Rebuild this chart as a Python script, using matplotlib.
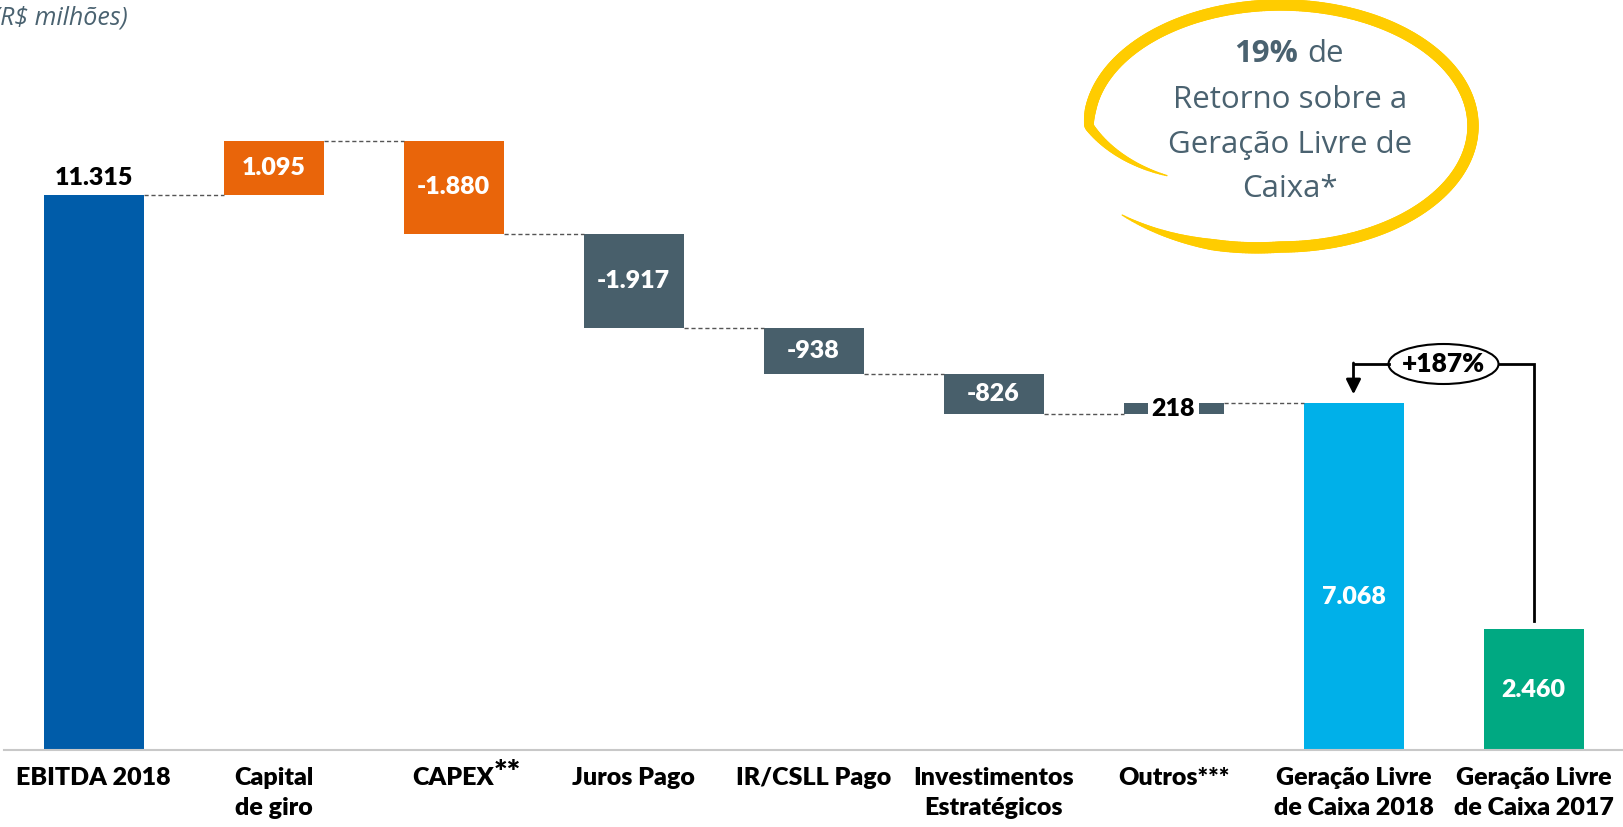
import matplotlib
matplotlib.use('Agg')
import matplotlib.pyplot as plt
import numpy as np
from matplotlib.patches import Ellipse
from matplotlib.collections import LineCollection

plt.rcParams['font.family'] = ['Lato', 'DejaVu Sans']

# data (R$ milhoes)
categories = ['EBITDA 2018', 'Capital\nde giro', 'CAPEX', 'Juros Pago', 'IR/CSLL Pago',
              'Investimentos\nEstratégicos', 'Outros***', 'Geração Livre\nde Caixa 2018',
              'Geração Livre\nde Caixa 2017']
ebitda = 11315
deltas = [1095, -1880, -1917, -938, -826, 218]
glc_2018 = 7068
glc_2017 = 2460
growth_label = '+187%'
balloon_pct = '19%'

c_ebitda = '#005CA9'
c_orange = '#E9650A'
c_slate = '#485F6B'
c_light = '#00B0E9'
c_green = '#00A982'
delta_colors = [c_orange, c_orange, c_slate, c_slate, c_slate, c_slate]

def fmt(v):
    return f'{v:,}'.replace(',', '.')

W, H = 1623, 827
fig = plt.figure(figsize=(W / 100, H / 100), dpi=100)
px = 0.04905  # pixels per unit
ax = fig.add_axes([3.5 / W, 77 / H, 1620 / W, 750 / H])
ax.set_xlim(-0.5, 8.5)
ax.set_ylim(0, 750 / px)

bw = 100 / 180
fs = 18
fw = 'heavy'

# EBITDA
ax.bar(0, ebitda, bw, color=c_ebitda)
ax.annotate(fmt(ebitda), (0, ebitda), xytext=(0, 6), textcoords='offset pixels',
            ha='center', va='bottom', fontsize=fs, fontweight=fw, color='black')

# deltas
level = ebitda
for i, d in enumerate(deltas):
    x = i + 1
    new = level + d
    lo, hi = min(level, new), max(level, new)
    ax.bar(x, hi - lo, bw, bottom=lo, color=delta_colors[i])
    ax.plot([x - 1 + bw / 2, x - bw / 2], [level, level], color='#555555', lw=1,
            ls=(0, (3, 2)))
    if abs(d) < 500:
        ax.text(x, (lo + hi) / 2, fmt(d), ha='center', va='center', fontsize=fs,
                fontweight=fw, color='black',
                bbox=dict(boxstyle='square,pad=0.15', fc='white', ec='none'))
    else:
        ax.text(x, (lo + hi) / 2, fmt(d), ha='center', va='center', fontsize=fs,
                fontweight=fw, color='white')
    level = new

# final bars
ax.plot([6 + bw / 2, 7 - bw / 2], [level, level], color='#555555', lw=1, ls=(0, (3, 2)))
ax.bar(7, glc_2018, bw, color=c_light)
ax.text(7, glc_2018 * 0.44, fmt(glc_2018), ha='center', va='center', fontsize=fs,
        fontweight=fw, color='white')
ax.bar(8, glc_2017, bw, color=c_green)
ax.text(8, glc_2017 / 2, fmt(glc_2017), ha='center', va='center', fontsize=fs,
        fontweight=fw, color='white')

# growth connector
y_line = 386 / px
ew, eh = 110 / 180, 40 / px
ax.plot([8, 8, 7.5 + ew / 2], [glc_2017 + 8 / px, y_line, y_line], color='black', lw=2,
        solid_joinstyle='miter')
ax.plot([7.5 - ew / 2, 7], [y_line, y_line], color='black', lw=2)
ax.annotate('', xy=(7, glc_2018 + 9 / px), xytext=(7, y_line + 1 / px),
            arrowprops=dict(arrowstyle='-|>', color='black', lw=2, mutation_scale=22,
                            shrinkA=0, shrinkB=0))
ax.add_patch(Ellipse((7.5, y_line), ew, eh, fc='white', ec='black', lw=1.5))
ax.text(7.5, y_line, growth_label, ha='center', va='center', fontsize=19,
        fontweight=fw, color='black')

# axes styling
for s in ['top', 'right', 'left']:
    ax.spines[s].set_visible(False)
ax.spines['bottom'].set_color('#C8C8C8')
ax.spines['bottom'].set_linewidth(1.5)
ax.set_yticks([])
ax.set_xticks(range(len(categories)), categories, fontsize=fs, fontweight=fw,
              linespacing=1.45)
ax.tick_params(axis='x', length=0, pad=12)
ax.get_xticklabels()[2].set_x(1.97)
ax.annotate('**', xy=(2, 0), xycoords=('data', 'axes fraction'), xytext=(54, -24),
            textcoords='offset pixels', ha='center', va='center', fontsize=23,
            fontweight=fw)

# overlay in pixel coordinates
ov = fig.add_axes([0, 0, 1, 1])
ov.set_xlim(0, W)
ov.set_ylim(H, 0)
ov.axis('off')

ov.text(128, 18, '(R$ milhões)', ha='right', va='center', fontsize=18,
        style='italic', color='#4A6270', family='Open Sans')

# yellow hand-drawn balloon
cx, cy, a, b = 1280, 126, 193, 121
t = np.radians(np.linspace(138, -215, 400))
tk = np.radians([138, 90, 0, -90, -180, -215])
sk = [1.1, 1.0, 1.0, 1.0, 0.99, 0.715]
s = np.interp(t, tk[::-1], sk[::-1])
xs = cx + a * s * np.cos(t)
ys = cy + b * s * np.sin(t)
pts = np.column_stack([xs, ys])
segs = np.stack([pts[:-1], pts[1:]], axis=1)
u = np.linspace(0, 1, len(segs))
lw = 7.2 * np.minimum(1, np.minimum(u / 0.08, (1 - u) / 0.12)) + 1.0
ov.add_collection(LineCollection(segs, linewidths=lw, colors='#FFCC00',
                                 capstyle='round'))

bal_c = '#4A6270'
bfs = 22.5
ov.text(1298, 54, balloon_pct, ha='right', va='center', fontsize=bfs,
        fontweight='bold', color=bal_c, family='Open Sans')
ov.text(1307, 54, 'de', ha='left', va='center', fontsize=bfs, color=bal_c,
        family='Open Sans')
for yy, line in zip([100, 145, 189], ['Retorno sobre a', 'Geração Livre de', 'Caixa*']):
    ov.text(1290, yy, line, ha='center', va='center', fontsize=bfs, color=bal_c,
            family='Open Sans')

fig.savefig('out.png', dpi=100)
